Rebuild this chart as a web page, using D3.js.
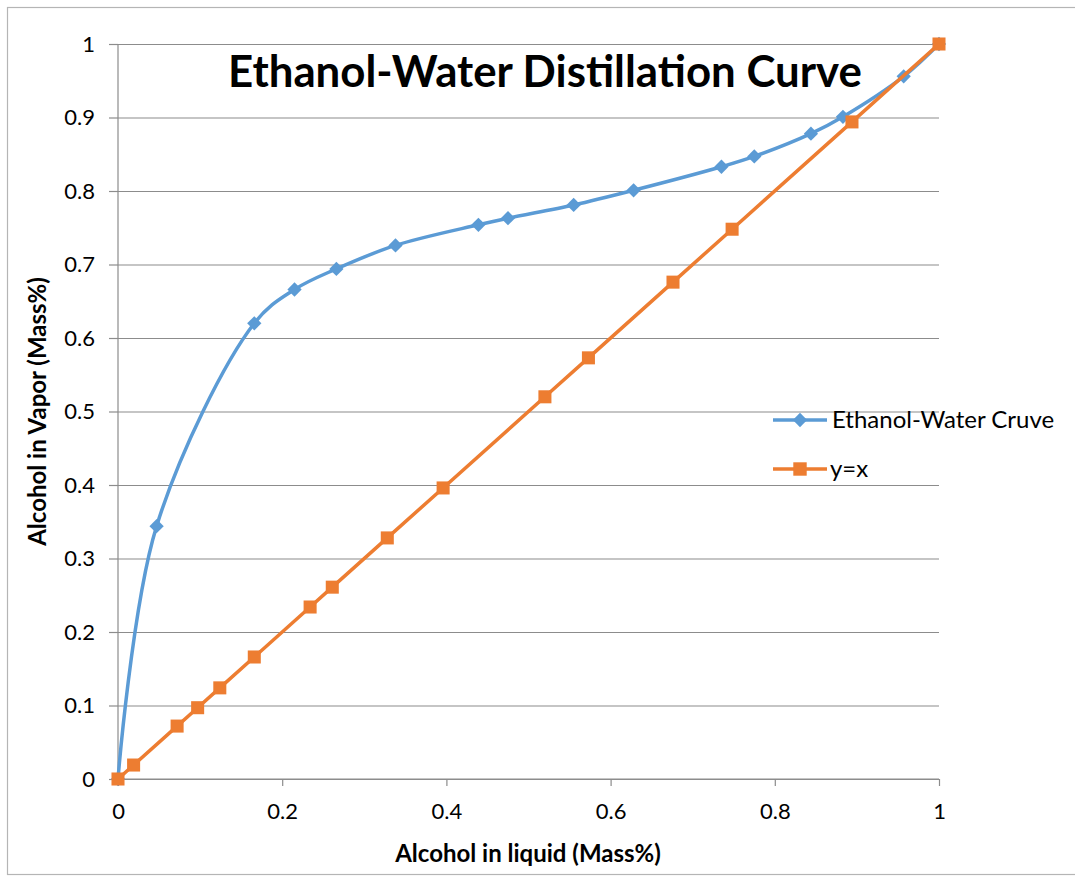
<!DOCTYPE html>
<html>
<head>
<meta charset="utf-8">
<script src="https://cdn.jsdelivr.net/npm/d3@7"></script>
<style>
  html, body { margin: 0; padding: 0; background: #fff; }
  svg { display: block; font-family: Lato, "Open Sans", sans-serif; }
</style>
</head>
<body>
<svg id="chart" width="1075" height="876"></svg>
<script>
// Ethanol-water vapour/liquid equilibrium (mass fractions)
const liquidX = [0, 0.047, 0.166, 0.215, 0.266, 0.338, 0.439, 0.475, 0.555, 0.628, 0.735, 0.775, 0.844, 0.883, 0.957, 1];
const vaporY  = [0, 0.344, 0.620, 0.666, 0.694, 0.726, 0.754, 0.763, 0.781, 0.801, 0.833, 0.847, 0.878, 0.901, 0.956, 1];

// Reference diagonal y = x
const diagonalX = [0, 0.019, 0.072, 0.097, 0.124, 0.166, 0.234, 0.261, 0.328, 0.396, 0.520, 0.573, 0.676, 0.748, 0.894, 1];

const xTicks = [0, 0.2, 0.4, 0.6, 0.8, 1];
const yTicks = [0, 0.1, 0.2, 0.3, 0.4, 0.5, 0.6, 0.7, 0.8, 0.9, 1];

const seriesNames = ["Ethanol-Water Cruve", "y=x"];
const seriesColors = ["#5B9BD5", "#ED7D31"];

const titleText = "Ethanol-Water Distillation Curve";
const xTitle = "Alcohol in liquid (Mass%)";
const yTitle = "Alcohol in Vapor (Mass%)";

const svg = d3.select("#chart");
const W = 1075;
const plot = { left: 118, right: 939, top: 44, bottom: 779 };

const x = d3.scaleLinear().domain([0, 1]).range([plot.left, plot.right]);
const y = d3.scaleLinear().domain([0, 1]).range([plot.bottom, plot.top]);

const gridColor = "#8c8c8c";

// chart area frame
svg.append("rect")
  .attr("x", 7.5).attr("y", 7.5)
  .attr("width", W).attr("height", 867)
  .attr("fill", "#fff").attr("stroke", "#b5b5b5").attr("stroke-width", 1.2);

// horizontal gridlines with left tick stubs
const yAxis = d3.axisLeft(y).tickValues(yTicks).tickSize(8).tickPadding(15)
  .tickFormat(d3.format("~g"));
const gy = svg.append("g").attr("transform", `translate(${plot.left},0)`).call(yAxis);
gy.selectAll(".tick line").attr("stroke", gridColor).attr("x2", -9).attr("stroke-width", 1.2);
gy.selectAll(".tick").append("line")
  .attr("x1", 0).attr("x2", plot.right - plot.left)
  .attr("stroke", gridColor).attr("stroke-width", 1.2);
gy.select(".domain").attr("stroke", gridColor).attr("stroke-width", 1.2).attr("d", `M0,${plot.top}V${plot.bottom}`);
gy.selectAll(".tick text").attr("font-size", 22).attr("fill", "#000")
  .attr("font-family", "Lato, sans-serif");

// x axis with downward ticks
const xAxis = d3.axisBottom(x).tickValues(xTicks).tickSize(7).tickPadding(17)
  .tickFormat(d3.format("~g"));
const gx = svg.append("g").attr("transform", `translate(0,${plot.bottom})`).call(xAxis);
gx.select(".domain").attr("stroke", gridColor).attr("stroke-width", 1.2).attr("d", `M${plot.left},0H${plot.right}`);
gx.selectAll(".tick line").attr("stroke", gridColor).attr("stroke-width", 1.2);
gx.selectAll(".tick text").attr("font-size", 22).attr("fill", "#000")
  .attr("font-family", "Lato, sans-serif");

// series data
const curveData = liquidX.map((v, i) => [v, vaporY[i]]);
const diagData = diagonalX.map(v => [v, v]);

const smoothLine = d3.line().x(d => x(d[0])).y(d => y(d[1])).curve(d3.curveCatmullRom.alpha(0.5));
const straightLine = d3.line().x(d => x(d[0])).y(d => y(d[1]));

const diamond = d3.symbol().type(d3.symbolDiamond2).size(130);
const square = d3.symbol().type(d3.symbolSquare).size(170);

// equilibrium curve
svg.append("path").datum(curveData)
  .attr("d", smoothLine).attr("fill", "none")
  .attr("stroke", seriesColors[0]).attr("stroke-width", 3.5).attr("stroke-linejoin", "round");
svg.append("g").selectAll("path").data(curveData).join("path")
  .attr("d", diamond)
  .attr("transform", d => `translate(${x(d[0])},${y(d[1])})`)
  .attr("fill", seriesColors[0]);

// y = x diagonal
svg.append("path").datum(diagData)
  .attr("d", straightLine).attr("fill", "none")
  .attr("stroke", seriesColors[1]).attr("stroke-width", 3.5).attr("stroke-linejoin", "round");
svg.append("g").selectAll("path").data(diagData).join("path")
  .attr("d", square)
  .attr("transform", d => `translate(${x(d[0])},${y(d[1])})`)
  .attr("fill", seriesColors[1]);

// title
const title = svg.append("text")
  .attr("x", 545).attr("y", 87)
  .attr("text-anchor", "middle")
  .attr("font-weight", 700).attr("font-size", 38).attr("fill", "#000")
  .text(titleText);
const tw = title.node().getComputedTextLength();
title.attr("font-size", 38 * 634 / tw);

// axis titles
svg.append("text")
  .attr("x", 528).attr("y", 862)
  .attr("text-anchor", "middle")
  .attr("font-weight", 700).attr("font-size", 24).attr("fill", "#000")
  .text(xTitle);
svg.append("text")
  .attr("transform", `translate(46,${(plot.top + plot.bottom) / 2}) rotate(-90)`)
  .attr("text-anchor", "middle")
  .attr("font-weight", 700).attr("font-size", 24).attr("fill", "#000")
  .text(yTitle);

// legend
const legend = svg.append("g");
const legendRows = [
  { name: seriesNames[0], color: seriesColors[0], sym: diamond, yPos: 420, tx: 832 },
  { name: seriesNames[1], color: seriesColors[1], sym: d3.symbol().type(d3.symbolSquare).size(180), yPos: 469, tx: 830 }
];
legendRows.forEach(r => {
  legend.append("line")
    .attr("x1", 773).attr("x2", 827).attr("y1", r.yPos).attr("y2", r.yPos)
    .attr("stroke", r.color).attr("stroke-width", 3.5);
  legend.append("path").attr("d", r.sym)
    .attr("transform", `translate(800,${r.yPos})`).attr("fill", r.color);
  legend.append("text")
    .attr("x", r.tx).attr("y", r.yPos + 8)
    .attr("font-size", 24).attr("fill", "#000")
    .text(r.name);
});
</script>
</body>
</html>
